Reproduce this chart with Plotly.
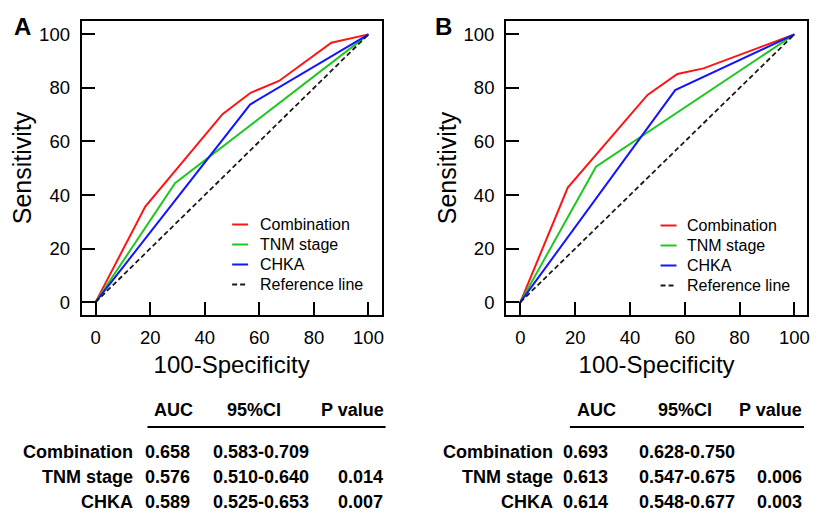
import plotly.graph_objects as go

W, H = 817, 513

# ---------------- data ----------------
series_names = ["Combination", "TNM stage", "CHKA", "Reference line"]

A_comb_x = [0, 18.2, 46.5, 56.8, 67.2, 86.4, 100]
A_comb_y = [0, 35.7, 70.2, 78.2, 82.6, 96.9, 100]
A_tnm_x = [0, 29.1, 100]
A_tnm_y = [0, 44.4, 100]
A_chka_x = [0, 56.6, 100]
A_chka_y = [0, 73.8, 100]

B_comb_x = [0, 17.3, 46.4, 57.3, 66.8, 100]
B_comb_y = [0, 42.8, 77.4, 85.2, 87.3, 100]
B_tnm_x = [0, 27.6, 100]
B_tnm_y = [0, 50.6, 100]
B_chka_x = [0, 56.5, 100]
B_chka_y = [0, 79.2, 100]

ref_x = [0, 100]
ref_y = [0, 100]

tick_vals = [0, 20, 40, 60, 80, 100]
tick_text = ["0", "20", "40", "60", "80", "100"]

tbl_headers = ["AUC", "95%CI", "P value"]
tbl_rows = ["Combination", "TNM stage", "CHKA"]
A_auc = ["0.658", "0.576", "0.589"]
A_ci = ["0.583-0.709", "0.510-0.640", "0.525-0.653"]
A_p = ["", "0.014", "0.007"]
B_auc = ["0.693", "0.613", "0.614"]
B_ci = ["0.628-0.750", "0.547-0.675", "0.548-0.677"]
B_p = ["", "0.006", "0.003"]

# ---------------- styles ----------------
FONT = "Liberation Sans, Arial, sans-serif"
colors = ["#ff1414", "#1ec81e", "#1414ff", "#1a1a1a"]
dashes = ["solid", "solid", "solid", "5px,3px"]
widths = [2, 2, 2, 1.8]


def px(x):
    return x / W


def py(y):
    return 1 - y / H


fig = go.Figure()

panels = [
    ("x", "y", [(A_comb_x, A_comb_y), (A_tnm_x, A_tnm_y), (A_chka_x, A_chka_y), (ref_x, ref_y)]),
    ("x2", "y2", [(B_comb_x, B_comb_y), (B_tnm_x, B_tnm_y), (B_chka_x, B_chka_y), (ref_x, ref_y)]),
]
for xa, ya, curves in panels:
    for i, (cx, cy) in enumerate(curves):
        fig.add_trace(go.Scatter(x=cx, y=cy, mode="lines", name=series_names[i],
                                 line=dict(color=colors[i], width=widths[i], dash=dashes[i]),
                                 xaxis=xa, yaxis=ya, showlegend=False))

axis_common = dict(
    showline=True, linewidth=2, linecolor="black", mirror=True,
    ticks="inside", ticklen=13, tickwidth=2, tickcolor="black",
    showgrid=False, zeroline=False,
    tickvals=tick_vals, ticktext=tick_text,
    tickfont=dict(family=FONT, size=18.5, color="black"),
)

xdomA = [px(82), px(383)]
xdomB = [px(508), px(810)]
ydom = [py(315), py(21)]

fig.update_layout(
    width=W, height=H,
    margin=dict(l=0, r=0, t=0, b=0),
    paper_bgcolor="white", plot_bgcolor="white",
    font=dict(family=FONT, color="black"),
    showlegend=False,
    xaxis=dict(domain=xdomA, range=[-5.1, 104.8], anchor="y",
               title=dict(text="100-Specificity", font=dict(size=24), standoff=9),
               ticklabelstandoff=5, **axis_common),
    yaxis=dict(domain=ydom, range=[-4.8, 105], anchor="x",
               title=dict(text="Sensitivity", font=dict(size=25), standoff=0),
               ticklabelstandoff=6, **axis_common),
    xaxis2=dict(domain=xdomB, range=[-5.2, 104.6], anchor="y2",
                title=dict(text="100-Specificity", font=dict(size=24), standoff=9),
                ticklabelstandoff=5, **axis_common),
    yaxis2=dict(domain=ydom, range=[-4.8, 105], anchor="x2",
                title=dict(text="Sensitivity", font=dict(size=25), standoff=0),
                ticklabelstandoff=6, **axis_common),
)

annotations = []
shapes = []

# panel letters
for letter, xc in [("A", 23), ("B", 445)]:
    annotations.append(dict(text="<b>%s</b>" % letter, x=px(xc), y=py(27), xref="paper", yref="paper",
                            xanchor="center", yanchor="middle", showarrow=False,
                            font=dict(size=24, family=FONT, color="black")))

# legends (key samples + labels)
legend_layout = [
    (233, 249, 259, [224.5, 244.5, 264.5, 284.5]),
    (663, 679, 688, [225.5, 245.5, 265.5, 285.5]),
]
for lx0, lx1, tx, rows in legend_layout:
    for i, name in enumerate(series_names):
        shapes.append(dict(type="line", xref="paper", yref="paper",
                           x0=px(lx0), x1=px(lx1), y0=py(rows[i]), y1=py(rows[i]),
                           line=dict(color=colors[i], width=2, dash=dashes[i])))
        annotations.append(dict(text=name, x=px(tx), y=py(rows[i]), xref="paper", yref="paper",
                                xanchor="left", yanchor="middle", showarrow=False,
                                font=dict(size=16, family=FONT, color="black")))

# tables
tfont = dict(size=18, family=FONT, color="black")
row_y = [452, 477, 502]
head_y = 410
tables = [
    (A_auc, A_ci, A_p, 135, 144, 212, 386, 153, 255, 387, (148, 387)),
    (B_auc, B_ci, B_p, 557, 563, 639, 807, 577, 688, 807, (572, 807)),
]
tbl_ann = []
for auc, ci, pv, lab_r, auc_l, ci_l, p_r, h_auc, h_ci, h_p, (l0, l1) in tables:
    tbl_ann.append(dict(text="<b>%s</b>" % tbl_headers[0], x=px(h_auc), y=py(head_y), xanchor="left"))
    tbl_ann.append(dict(text="<b>%s</b>" % tbl_headers[1], x=px(h_ci), y=py(head_y), xanchor="center"))
    tbl_ann.append(dict(text="<b>%s</b>" % tbl_headers[2], x=px(h_p), y=py(head_y), xanchor="right"))
    for i, r in enumerate(tbl_rows):
        yy = py(row_y[i])
        tbl_ann.append(dict(text="<b>%s</b>" % r, x=px(lab_r), y=yy, xanchor="right"))
        tbl_ann.append(dict(text="<b>%s</b>" % auc[i], x=px(auc_l), y=yy, xanchor="left"))
        tbl_ann.append(dict(text="<b>%s</b>" % ci[i], x=px(ci_l), y=yy, xanchor="left"))
        if pv[i]:
            tbl_ann.append(dict(text="<b>%s</b>" % pv[i], x=px(p_r), y=yy, xanchor="right"))
    shapes.append(dict(type="line", xref="paper", yref="paper", x0=px(l0), x1=px(l1),
                       y0=py(427), y1=py(427), line=dict(color="black", width=2)))

for a in tbl_ann:
    a.update(xref="paper", yref="paper", yanchor="middle", showarrow=False, font=tfont)
annotations.extend(tbl_ann)

fig.update_layout(annotations=annotations, shapes=shapes)

fig.write_html("out.html",
               config={"displayModeBar": False},
               post_script="document.body.style.margin='0px';document.body.style.padding='0px';")
